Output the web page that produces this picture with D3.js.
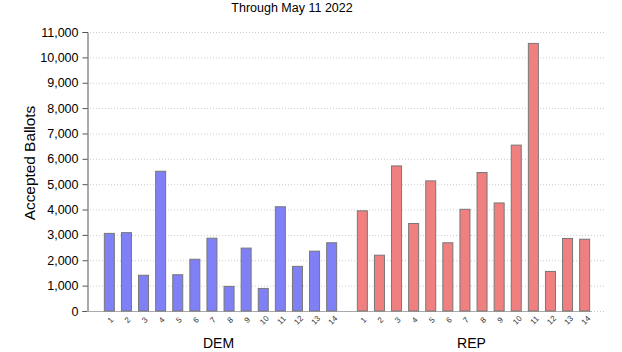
<!DOCTYPE html>
<html>
<head>
<meta charset="utf-8">
<script src="https://cdn.jsdelivr.net/npm/d3@7"></script>
<style>
  body { margin: 0; background: #fff; }
  svg { font-family: "Liberation Sans", Arial, sans-serif; }
</style>
</head>
<body>
<svg id="vis" width="622" height="352"></svg>
<script>
// data
const districts = ["1","2","3","4","5","6","7","8","9","10","11","12","13","14"];
const demValues = [3060, 3090, 1410, 5510, 1430, 2040, 2870, 970, 2480, 890, 4110, 1760, 2360, 2690];
const repValues = [3950, 2200, 5720, 3450, 5130, 2690, 4010, 5460, 4260, 6540, 10550, 1560, 2860, 2830];
const yTicks = [0,1000,2000,3000,4000,5000,6000,7000,8000,9000,10000,11000];

const svg = d3.select("#vis");

let axisX = 87,
    gridRight = 606,
    yTop = 32,
    yBottom = 311;

const y = d3.scaleLinear().domain([0, 11000]).range([yBottom, yTop]);

const xDem = d3.scaleBand().domain(districts)
    .range([97.5, 343.5]).paddingInner(0.415).paddingOuter(0.4);
const xRep = d3.scaleBand().domain(districts)
    .range([350.5, 596.5]).paddingInner(0.415).paddingOuter(0.4);

// title
svg.append("text")
    .attr("x", 292).attr("y", 12)
    .attr("text-anchor", "middle")
    .attr("font-size", 12.5)
    .text("Through May 11 2022");

// gridlines
svg.append("g")
  .selectAll("line")
  .data(yTicks)
  .join("line")
    .attr("x1", axisX).attr("x2", gridRight)
    .attr("y1", d => y(d) + 0.5).attr("y2", d => y(d) + 0.5)
    .attr("stroke", "#ccc")
    .attr("stroke-dasharray", "1,2");

// y axis
const yAxis = svg.append("g")
    .attr("transform", `translate(${axisX + 0.5},0)`)
    .call(d3.axisLeft(y).tickValues(yTicks).tickSize(5).tickPadding(4).tickFormat(d3.format(",")));
yAxis.select(".domain").attr("stroke", "#555");
yAxis.selectAll(".tick line").attr("stroke", "#555");
yAxis.selectAll(".tick text")
    .attr("font-size", 12.5)
    .attr("font-family", "Liberation Sans, Arial, sans-serif")
    .attr("fill", "#000");

svg.append("text")
    .attr("transform", `translate(35,163) rotate(-90)`)
    .attr("text-anchor", "middle")
    .attr("font-size", 15.4)
    .text("Accepted Ballots");

// baseline
svg.append("line")
    .attr("x1", axisX).attr("x2", xRep("14") + xRep.bandwidth() + 2)
    .attr("y1", yBottom + 0.5).attr("y2", yBottom + 0.5)
    .attr("stroke", "#aaa");

function drawGroup(x, values, fill, label) {
  const g = svg.append("g");
  g.selectAll("rect")
    .data(values)
    .join("rect")
      .attr("x", (d, i) => x(districts[i]))
      .attr("y", d => y(d))
      .attr("width", x.bandwidth())
      .attr("height", d => yBottom - y(d))
      .attr("fill", fill)
      .attr("stroke", "#777")
      .attr("stroke-width", 1);

  g.selectAll("text.tick")
    .data(districts)
    .join("text")
      .attr("class", "tick")
      .attr("transform", d => `translate(${x(d) + x.bandwidth() / 2 + 1},${yBottom + 9}) rotate(-45)`)
      .attr("text-anchor", "middle")
      .attr("dy", "0.35em")
      .attr("font-size", 8)
      .attr("fill", "#333")
      .text(d => d);

  const r = x.range();
  g.append("text")
      .attr("x", (r[0] + r[1]) / 2 - 2)
      .attr("y", 348)
      .attr("text-anchor", "middle")
      .attr("font-size", 14)
      .text(label);
}

drawGroup(xDem, demValues, "#8080f6", "DEM");
drawGroup(xRep, repValues, "#f08080", "REP");
</script>
</body>
</html>
